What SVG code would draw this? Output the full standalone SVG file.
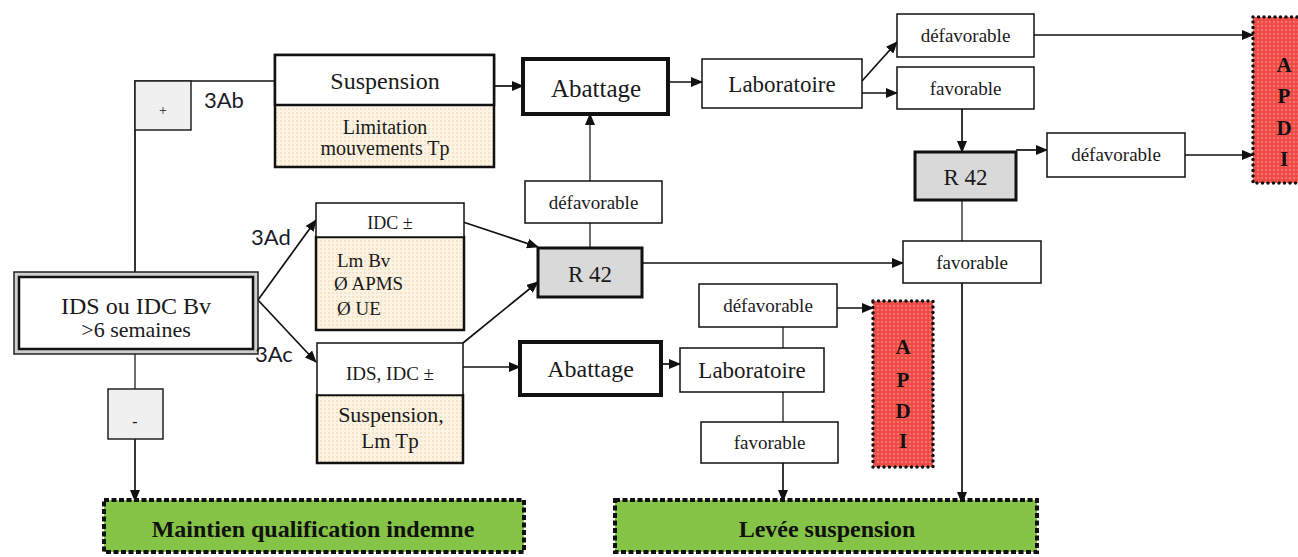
<svg xmlns="http://www.w3.org/2000/svg" width="1298" height="557" viewBox="0 0 1298 557">
<defs>
<marker id="arr" markerUnits="userSpaceOnUse" markerWidth="12" markerHeight="10" refX="11" refY="5" orient="auto">
<path d="M0,0 L12,5 L0,10 z" fill="#111"/>
</marker>
<pattern id="dotO" width="4" height="4" patternUnits="userSpaceOnUse">
<rect width="4" height="4" fill="#fdf3e2"/>
<circle cx="1" cy="1" r="0.8" fill="#e8d0a8"/>
</pattern>
<pattern id="dotR" width="4" height="4" patternUnits="userSpaceOnUse">
<rect width="4" height="4" fill="#f04a45"/>
<circle cx="2" cy="2" r="0.9" fill="#f88a85"/>
</pattern>
<style>
.ln{fill:none;stroke:#111;stroke-width:1.7}
.lg{fill:none;stroke:#555;stroke-width:1.7}
.a{marker-end:url(#arr)}
.box{fill:#fff;stroke:#111;stroke-width:1.5}
.thk{fill:#fff;stroke:#111;stroke-width:4}
.r42{fill:#d9d9d9;stroke:#111;stroke-width:3}
.gray{fill:#f0f0f0;stroke:#222;stroke-width:1.5}
.orb{fill:url(#dotO);stroke:#111;stroke-width:2.5}
.apdi{fill:url(#dotR);stroke:#111;stroke-width:3.5;stroke-dasharray:0 5.5;stroke-linecap:round}
.grn{fill:#85c446;stroke:#111;stroke-width:4;stroke-dasharray:5 2.5}
.t{font-family:"Liberation Serif","Times New Roman",serif;fill:#1a1a1a;text-anchor:middle}
.tl{font-family:"Liberation Serif","Times New Roman",serif;fill:#1a1a1a}
.b{font-family:"Liberation Serif","Times New Roman",serif;font-weight:bold;fill:#111;text-anchor:middle}
.s{font-family:Lato,"Open Sans",sans-serif;fill:#1a1a2a;font-size:22px}
</style>
</defs>

<g id="connectors">
<path class="ln" d="M135,272 V81 H275"/>
<path class="ln a" d="M494,86 H523"/>
<path class="ln a" d="M668,82 H702"/>
<path class="ln a" d="M862,81 L897,42"/>
<path class="ln a" d="M862,93 H897"/>
<path class="ln a" d="M1034,35 H1253"/>
<path class="ln a" d="M962,109 V152"/>
<path class="ln a" d="M1016,150 H1047"/>
<path class="ln a" d="M1185,155 H1253"/>
<path class="lg" d="M962,200 V241"/>
<path class="ln a" d="M962,283 V503"/>
<path class="ln a" d="M642,263 H903"/>
<path class="lg a" d="M590,181 V114"/>
<path class="lg" d="M590,248 V223"/>
<path class="ln a" d="M463,222 L538,247"/>
<path class="ln a" d="M463,343 L538,282"/>
<path class="ln a" d="M258,300 L316,220"/>
<path class="ln a" d="M258,300 L316,362"/>
<path class="lg" d="M135,354 V389"/>
<path class="ln a" d="M135,439 V501"/>
<path class="ln a" d="M463,367 H520"/>
<path class="ln a" d="M661,364 H680"/>
<path class="lg" d="M783,327 V348"/>
<path class="ln a" d="M837,308 H873"/>
<path class="lg" d="M783,392 V422"/>
<path class="ln a" d="M783,463 V501"/>
</g>

<g id="plus">
<rect class="gray" x="135" y="81" width="56" height="49"/>
<text class="t" x="163" y="115" font-size="14">+</text>
</g>
<text class="s" x="204" y="108">3Ab</text>
<text class="s" x="251" y="245">3Ad</text>

<g id="main">
<rect x="14" y="272" width="244" height="82" fill="#cfcfcf" stroke="#222" stroke-width="1.5"/>
<rect x="19" y="277" width="234" height="72" fill="#fff" stroke="#111" stroke-width="2.5"/>
<text class="t" x="136" y="314" font-size="24">IDS ou IDC Bv</text>
<text class="t" x="136" y="337" font-size="22">&gt;6 semaines</text>
</g>
<text class="s" x="255" y="362">3Ac</text>

<g id="minus">
<rect class="gray" x="108" y="389" width="55" height="50"/>
<text class="t" x="135" y="427" font-size="16">-</text>
</g>

<g id="suspension">
<rect class="orb" x="275" y="55" width="219" height="112"/>
<rect x="275" y="55" width="219" height="50" fill="#fff" stroke="#111" stroke-width="2.5"/>
<text class="t" x="385" y="89" font-size="24">Suspension</text>
<text class="t" x="385" y="134" font-size="20">Limitation</text>
<text class="t" x="385" y="155" font-size="20">mouvements Tp</text>
</g>

<g id="abattage1">
<rect class="thk" x="523" y="59" width="145" height="55"/>
<text class="t" x="596" y="97" font-size="25">Abattage</text>
</g>

<g id="labo1">
<rect class="box" x="702" y="59" width="160" height="49"/>
<text class="t" x="782" y="92" font-size="23">Laboratoire</text>
</g>

<g id="defav1">
<rect class="box" x="897" y="14" width="137" height="43"/>
<text class="t" x="965.5" y="42" font-size="19">défavorable</text>
</g>

<g id="fav1">
<rect class="box" x="897" y="67" width="137" height="42"/>
<text class="t" x="965.5" y="95" font-size="19">favorable</text>
</g>

<g id="r42a">
<rect class="r42" x="915" y="152" width="101" height="48"/>
<text class="t" x="965.5" y="185" font-size="23">R 42</text>
</g>

<g id="defav2">
<rect class="box" x="1047" y="133" width="138" height="44"/>
<text class="t" x="1116" y="161" font-size="19">défavorable</text>
</g>

<g id="apdi1">
<rect class="apdi" x="1253" y="17" width="62" height="166"/>
<text class="b" x="1284" y="72" font-size="21">A</text>
<text class="b" x="1284" y="103" font-size="21">P</text>
<text class="b" x="1284" y="135" font-size="21">D</text>
<text class="b" x="1284" y="166" font-size="21">I</text>
</g>

<g id="idc">
<rect class="orb" x="316" y="237" width="148" height="93"/>
<rect class="box" x="316" y="203" width="148" height="34"/>
<text class="t" x="390" y="229" font-size="18">IDC ±</text>
<text class="tl" x="337" y="267" font-size="19">Lm Bv</text>
<text class="tl" x="334" y="290" font-size="19">Ø APMS</text>
<text class="tl" x="337" y="315" font-size="19">Ø UE</text>
</g>

<g id="defav3">
<rect class="box" x="525" y="181" width="137" height="42"/>
<text class="t" x="593.5" y="209" font-size="19">défavorable</text>
</g>

<g id="r42b">
<rect class="r42" x="538" y="248" width="104" height="49"/>
<text class="t" x="590" y="282" font-size="23">R 42</text>
</g>

<g id="fav2">
<rect class="box" x="903" y="241" width="138" height="42"/>
<text class="t" x="972" y="269" font-size="19">favorable</text>
</g>

<g id="ids">
<rect class="orb" x="317" y="395" width="146" height="68"/>
<rect class="box" x="317" y="343" width="146" height="52"/>
<text class="t" x="390" y="380" font-size="19">IDS, IDC ±</text>
<text class="t" x="391" y="422" font-size="22">Suspension,</text>
<text class="t" x="390" y="448" font-size="21">Lm Tp</text>
</g>

<g id="abattage2">
<rect class="thk" x="520" y="342" width="141" height="53"/>
<text class="t" x="590.5" y="377" font-size="24">Abattage</text>
</g>

<g id="labo2">
<rect class="box" x="680" y="348" width="144" height="44"/>
<text class="t" x="752" y="378" font-size="23">Laboratoire</text>
</g>

<g id="defav4">
<rect class="box" x="699" y="284" width="138" height="43"/>
<text class="t" x="768" y="312" font-size="19">défavorable</text>
</g>

<g id="fav3">
<rect class="box" x="701" y="422" width="137" height="41"/>
<text class="t" x="769.5" y="449" font-size="19">favorable</text>
</g>

<g id="apdi2">
<rect class="apdi" x="873" y="301" width="60" height="166"/>
<text class="b" x="903" y="354" font-size="21">A</text>
<text class="b" x="903" y="387" font-size="21">P</text>
<text class="b" x="903" y="418" font-size="21">D</text>
<text class="b" x="903" y="448" font-size="21">I</text>
</g>

<g id="maintien">
<rect class="grn" x="104" y="500" width="420" height="52"/>
<text class="b" x="313" y="537" font-size="24">Maintien qualification indemne</text>
</g>

<g id="levee">
<rect class="grn" x="615" y="500" width="422" height="52"/>
<text class="b" x="827" y="537" font-size="24">Levée suspension</text>
</g>
</svg>
